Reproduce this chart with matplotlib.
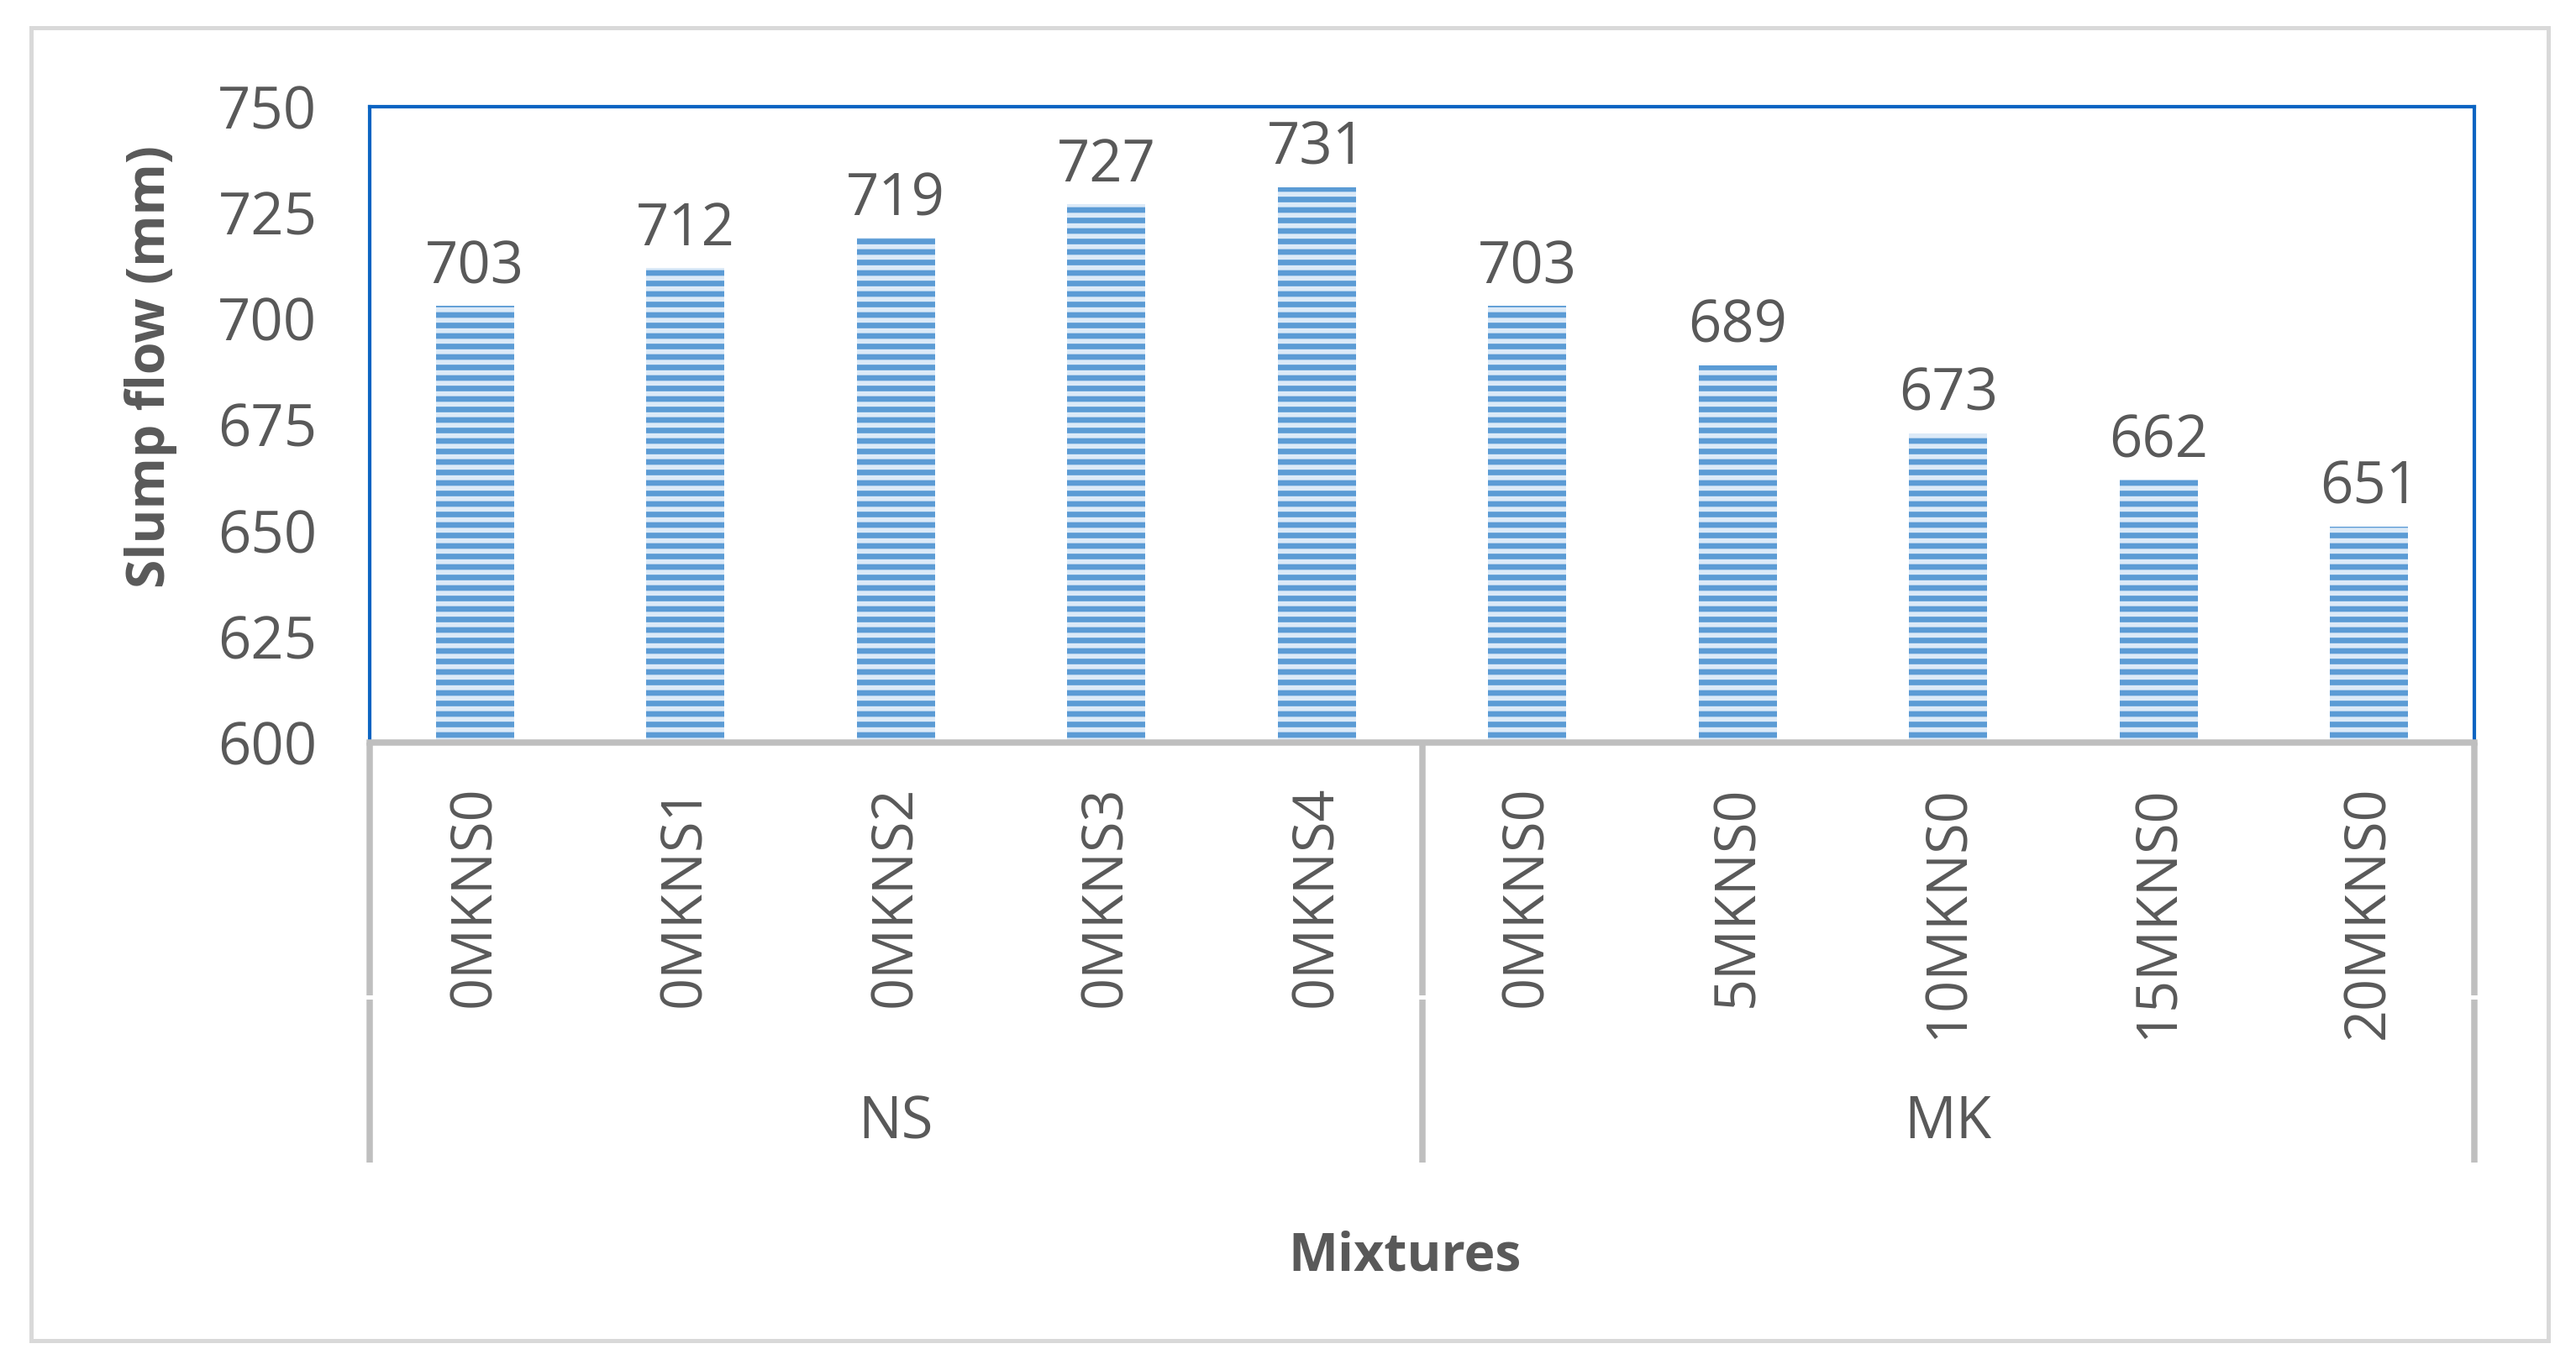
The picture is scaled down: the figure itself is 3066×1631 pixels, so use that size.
import numpy as np
import matplotlib
matplotlib.use("Agg")
from matplotlib import pyplot as plt
from matplotlib.patches import Rectangle
import matplotlib.transforms as mtransforms

mixtures = ["0MKNS0", "0MKNS1", "0MKNS2", "0MKNS3", "0MKNS4",
            "0MKNS0", "5MKNS0", "10MKNS0", "15MKNS0", "20MKNS0"]
slump_flow = [703, 712, 719, 727, 731, 703, 689, 673, 662, 651]
groups = ["NS", "MK"]
group_sizes = [5, 5]
y_ticks = [600, 625, 650, 675, 700, 725, 750]

plt.rcParams['font.family'] = ['Open Sans', 'DejaVu Sans']
plt.rcParams['hatch.linewidth'] = 2.8
text_color = '#595959'

fig = plt.figure(figsize=(3066 / 150, 1631 / 150), dpi=150)
ax = fig.add_axes([440 / 3066, 1 - 884 / 1631, 2505 / 3066, 757 / 1631])

x = np.arange(len(mixtures))
ax.bar(x, np.array(slump_flow) - 600, bottom=600, width=0.37,
       color='#5B9BD5', edgecolor='#DCEAF8', linewidth=0, hatch='--', zorder=2)

for xi, v in zip(x, slump_flow):
    ax.annotate(str(v), (xi, v), xytext=(0, 13), textcoords='offset points',
                ha='center', va='baseline', fontsize=33, color=text_color)

ax.set_xlim(-0.5, len(mixtures) - 0.5)
ax.set_ylim(600, 750)
ax.set_yticks(y_ticks)
ax.tick_params(axis='y', length=0, pad=30, labelsize=33, labelcolor=text_color)
ax.set_xticks([])

for side in ['top', 'left', 'right']:
    ax.spines[side].set_color('#0A64C2')
    ax.spines[side].set_linewidth(2)
ax.spines['bottom'].set_color('#BFBFBF')
ax.spines['bottom'].set_linewidth(3.6)
ax.spines['bottom'].set_zorder(3)

# multi-level category axis
trans = mtransforms.blended_transform_factory(ax.transData, ax.transAxes)
bounds = np.concatenate([[0], np.cumsum(group_sizes)]) - 0.5
for b in bounds:
    ax.plot([b, b], [0, -0.398], transform=trans, color='#BFBFBF', lw=3.6,
            clip_on=False, solid_capstyle='butt')
    ax.plot([b, b], [-0.404, -0.661], transform=trans, color='#BFBFBF', lw=3.6,
            clip_on=False, solid_capstyle='butt')

for xi, lab in zip(x, mixtures):
    ax.text(xi, -0.068, lab, transform=trans, rotation=90, ha='center', va='top',
            fontsize=32, color=text_color)

for g, lo, hi in zip(groups, bounds[:-1], bounds[1:]):
    ax.text((lo + hi) / 2, -0.599, g, transform=trans, ha='center', va='center',
            fontsize=33, color=text_color)

fig.text(180 / 3066, 1 - 436 / 1631, "Slump flow (mm)", rotation=90,
         ha='center', va='center', fontsize=30, fontweight='bold', color=text_color)
fig.text(1672 / 3066, 1 - 1496 / 1631, "Mixtures", ha='center', va='center',
         fontsize=30, fontweight='bold', color=text_color)

fig.patches.append(Rectangle((37 / 3066, 1 - 1596 / 1631), 2996 / 3066, 1563 / 1631,
                             transform=fig.transFigure, fill=False,
                             edgecolor='#D9D9D9', linewidth=2.4))

fig.savefig("out.png", dpi=150, facecolor='white')
